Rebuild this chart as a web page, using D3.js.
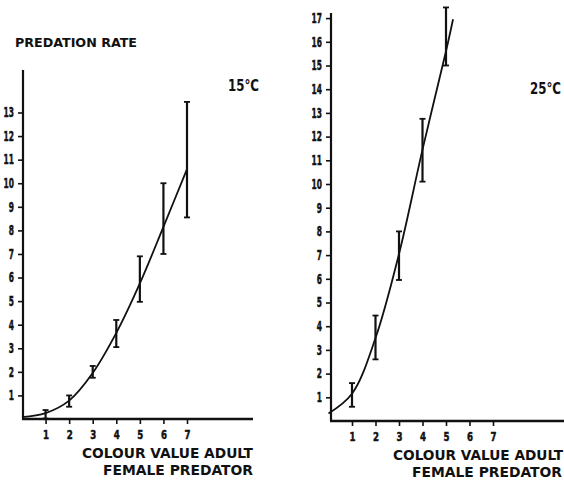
<!DOCTYPE html>
<html>
<head>
<meta charset="utf-8">
<script src="https://cdn.jsdelivr.net/npm/d3@7"></script>
<style>
  html, body { margin: 0; padding: 0; background: #fff; }
  svg text { font-family: "Liberation Sans Narrow", "DejaVu Sans Condensed", "Arial Narrow", sans-serif; font-weight: bold; fill: #111; }
</style>
</head>
<body>
<svg id="chart" width="564" height="481"></svg>
<script>
// Colour value of the adult female predator (x) and predation rate (y)
const xTicks = [1, 2, 3, 4, 5, 6, 7];

// 15 °C panel
const ticks15 = [1, 2, 3, 4, 5, 6, 7, 8, 9, 10, 11, 12, 13];
const curve15X = [0, 1, 2, 3, 4, 5, 6, 7];
const curve15Y = [0.08, 0.25, 0.78, 1.95, 3.65, 5.75, 8.15, 10.6];
const err15X = [1, 2, 3, 4, 5, 6, 7];
const err15Low = [0.02, 0.52, 1.75, 3.05, 4.97, 7.0, 8.55];
const err15High = [0.38, 1.0, 2.25, 4.2, 6.9, 10.0, 13.45];

// 25 °C panel
const ticks25 = [1, 2, 3, 4, 5, 6, 7, 8, 9, 10, 11, 12, 13, 14, 15, 16, 17];
const curve25X = [0, 1, 2, 3, 4, 5, 5.3];
const curve25Y = [0.32, 1.15, 3.5, 7.05, 11.45, 15.6, 16.95];
const err25X = [1, 2, 3, 4, 5];
const err25Low = [0.6, 2.6, 5.95, 10.1, 15.0];
const err25High = [1.6, 4.45, 8.0, 12.75, 17.45];

const svg = d3.select("#chart");

// Narrow, heavy numerals: fix each label's width by its digit count
function squeeze(sel, perDigit) {
  sel.attr("textLength", function () { return this.textContent.length * perDigit; })
     .attr("lengthAdjust", "spacingAndGlyphs")
     .style("stroke", "#111").style("stroke-width", 0.5);
}

function panel(cfg) {
  const x = d3.scaleLinear().domain([0, 7]).range(cfg.xRange);
  const y = d3.scaleLinear().domain([0, cfg.yMax]).range(cfg.yRange);
  const g = svg.append("g");

  // Y axis: ticks pointing left, bold numerals
  const yAxis = d3.axisLeft(y).tickValues(cfg.yTicks).tickSize(5).tickPadding(4).tickFormat(d3.format("d"));
  const ya = g.append("g").attr("transform", `translate(${cfg.axisX},0)`).call(yAxis);
  ya.select(".domain").remove();
  ya.selectAll(".tick line").attr("stroke", "#111").attr("stroke-width", 1.6);
  ya.selectAll(".tick text").attr("font-size", 13.5).style("fill", "#111").call(squeeze, 5.2);

  // X axis: ticks pointing down
  const xAxis = d3.axisBottom(x).tickValues(xTicks).tickSize(5).tickPadding(6).tickFormat(d3.format("d"));
  const xa = g.append("g").attr("transform", `translate(0,${cfg.axisY})`).call(xAxis);
  xa.select(".domain").remove();
  xa.selectAll(".tick line").attr("stroke", "#111").attr("stroke-width", 1.6);
  xa.selectAll(".tick text").attr("font-size", 12.5).style("fill", "#111").call(squeeze, 6);

  // Axis lines
  g.append("line")
    .attr("x1", cfg.axisX).attr("x2", cfg.axisX)
    .attr("y1", cfg.axisY).attr("y2", cfg.axisTop)
    .attr("stroke", "#111").attr("stroke-width", 2.2);
  g.append("line")
    .attr("x1", cfg.axisX - 1).attr("x2", cfg.axisRight)
    .attr("y1", cfg.axisY).attr("y2", cfg.axisY)
    .attr("stroke", "#111").attr("stroke-width", 2.4);

  // Fitted curve
  const pts = cfg.cx.map((v, i) => [v, cfg.cy[i]]);
  const line = d3.line().x(d => x(d[0])).y(d => y(d[1])).curve(d3.curveCatmullRom.alpha(0.5));
  g.append("path").attr("d", line(pts))
    .attr("fill", "none").attr("stroke", "#111").attr("stroke-width", 1.8);

  // Error bars with caps
  const bars = cfg.ex.map((v, i) => ({ x: v, lo: cfg.elo[i], hi: cfg.ehi[i] }));
  const eg = g.append("g").attr("stroke", "#111");
  eg.selectAll("line.bar").data(bars).join("line").attr("class", "bar")
    .attr("x1", d => x(d.x)).attr("x2", d => x(d.x))
    .attr("y1", d => y(d.lo)).attr("y2", d => y(d.hi))
    .attr("stroke-width", 2.2);
  eg.selectAll("line.capHi").data(bars).join("line").attr("class", "capHi")
    .attr("x1", d => x(d.x) - 3).attr("x2", d => x(d.x) + 3)
    .attr("y1", d => y(d.hi)).attr("y2", d => y(d.hi))
    .attr("stroke-width", 1.8);
  eg.selectAll("line.capLo").data(bars).join("line").attr("class", "capLo")
    .attr("x1", d => x(d.x) - 3).attr("x2", d => x(d.x) + 3)
    .attr("y1", d => y(d.lo)).attr("y2", d => y(d.lo))
    .attr("stroke-width", 1.8);

  // Temperature label
  g.append("text").attr("x", cfg.tempX).attr("y", cfg.tempY)
    .attr("font-size", 15)
    .attr("textLength", 31).attr("lengthAdjust", "spacingAndGlyphs")
    .text(cfg.temp);

  // X axis title, two right-aligned lines
  g.append("text").attr("x", cfg.titleX1).attr("y", cfg.axisY + 39)
    .attr("font-size", 13.5)
    .attr("textLength", cfg.titleW1).attr("lengthAdjust", "spacingAndGlyphs")
    .text("COLOUR VALUE ADULT");
  g.append("text").attr("x", cfg.titleX2).attr("y", cfg.axisY + 56)
    .attr("font-size", 13.5)
    .attr("textLength", cfg.titleW2).attr("lengthAdjust", "spacingAndGlyphs")
    .text("FEMALE PREDATOR");
}

panel({
  xRange: [22, 187], yMax: 13, yRange: [419, 112.5],
  yTicks: ticks15, axisX: 23, axisY: 419, axisTop: 70, axisRight: 253,
  cx: curve15X, cy: curve15Y, ex: err15X, elo: err15Low, ehi: err15High,
  temp: "15°C", tempX: 228, tempY: 91,
  titleX1: 82, titleW1: 171, titleX2: 103, titleW2: 150
});

panel({
  xRange: [328.5, 493], yMax: 17, yRange: [421, 18.1],
  yTicks: ticks25, axisX: 331, axisY: 421, axisTop: 13, axisRight: 564,
  cx: curve25X, cy: curve25Y, ex: err25X, elo: err25Low, ehi: err25High,
  temp: "25°C", tempX: 530, tempY: 94,
  titleX1: 393, titleW1: 170, titleX2: 412, titleW2: 150
});

// Shared y axis title
svg.append("text").attr("x", 15).attr("y", 47)
  .attr("font-size", 12.5)
  .attr("textLength", 122).attr("lengthAdjust", "spacingAndGlyphs")
  .text("PREDATION RATE");
</script>
</body>
</html>
